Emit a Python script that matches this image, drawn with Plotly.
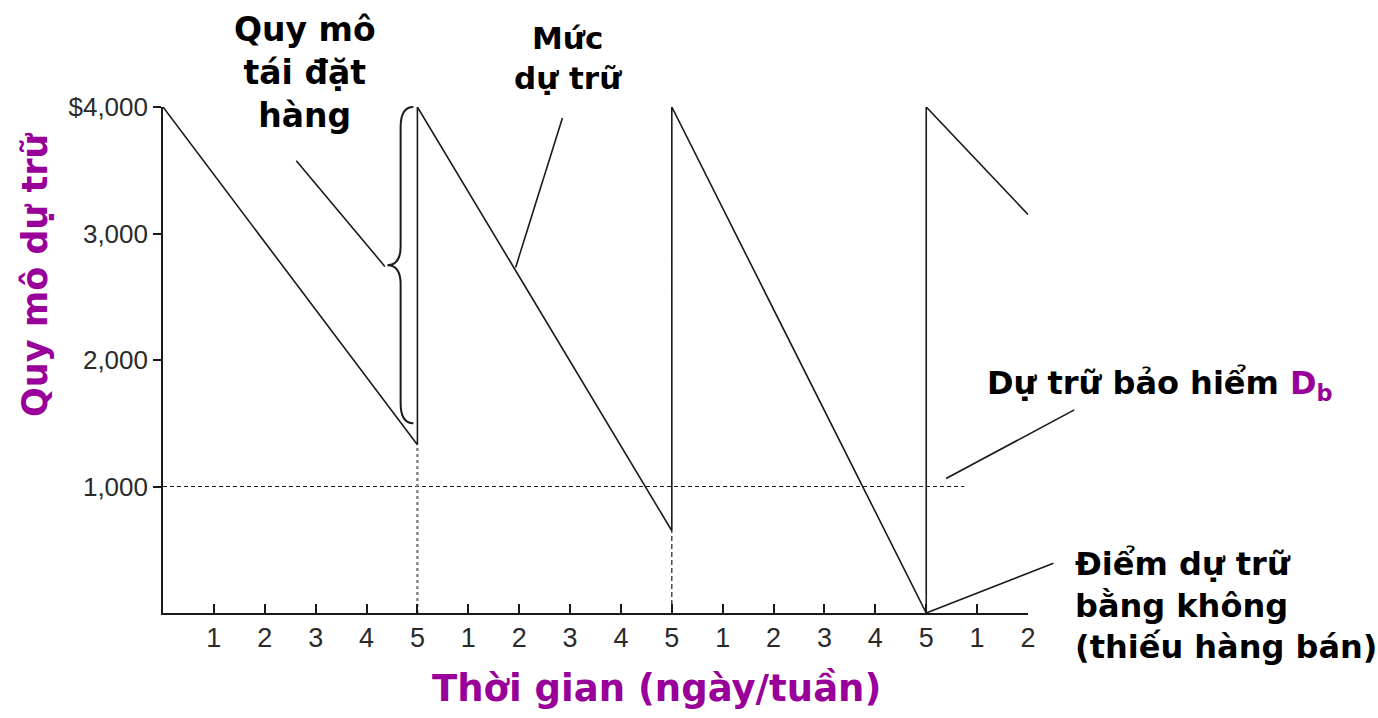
import plotly.graph_objects as go

# Inventory cycles (days on the x axis, value in $ on the y axis)
cycle_start = [0, 5, 10, 15]
cycle_end = [5, 10, 15, 17]
level_start = [4000, 4000, 4000, 4000]
level_end = [1330, 650, 0, 3150]

safety_stock = 1000
safety_end = 15.75

tick_days = list(range(1, 18))
tick_text = ["1", "2", "3", "4", "5"] * 3 + ["1", "2"]
y_ticks = [1000, 2000, 3000, 4000]
y_tick_text = ["1,000", "2,000", "3,000", "$4,000"]

X_RANGE = [0, 17]
Y_RANGE = [0, 4000]

PURPLE = "#990099"
INK = "#1a1a1a"
FONT = "DejaVu Sans"


def px(x):
    """data x -> paper fraction"""
    return (x - X_RANGE[0]) / (X_RANGE[1] - X_RANGE[0])


def py(y):
    """data y -> paper fraction"""
    return (y - Y_RANGE[0]) / (Y_RANGE[1] - Y_RANGE[0])


# Sawtooth path: each cycle declines, then jumps back up
saw_x, saw_y = [], []
for xs, xe, ys, ye in zip(cycle_start, cycle_end, level_start, level_end):
    saw_x += [xs, xe]
    saw_y += [ys, ye]

fig = go.Figure()
fig.add_trace(go.Scatter(x=saw_x, y=saw_y, mode="lines",
                         line=dict(color=INK, width=1.6), hoverinfo="skip",
                         showlegend=False))

# safety stock level
fig.add_trace(go.Scatter(x=[0, safety_end], y=[safety_stock, safety_stock], mode="lines",
                         line=dict(color=INK, width=1, dash="4px,3px"),
                         hoverinfo="skip", showlegend=False))

# drop lines at the reorder points
fig.add_trace(go.Scatter(x=[cycle_end[0], cycle_end[0]], y=[0, level_end[0]], mode="lines",
                         line=dict(color="#777777", width=2.2, dash="3px,3px"),
                         hoverinfo="skip", showlegend=False))
fig.add_trace(go.Scatter(x=[cycle_end[1], cycle_end[1]], y=[0, level_end[1]], mode="lines",
                         line=dict(color=INK, width=1.2, dash="5px,3px"),
                         hoverinfo="skip", showlegend=False))

shapes = []
# brace showing the reorder quantity
low, high = 1500, 4000
mid = (low + high) / 2
bx, tipx, endx = 4.67, 4.41, 4.92
pts = dict(
    e=px(endx), b=px(bx), t=px(tipx),
    hi=py(high), hi2=py(high - 160), m1=py(mid + 150), m=py(mid), m2=py(mid - 150),
    lo2=py(low + 160), lo=py(low),
)
brace = ("M {e},{hi} Q {b},{hi} {b},{hi2} L {b},{m1} Q {b},{m} {t},{m} "
         "Q {b},{m} {b},{m2} L {b},{lo2} Q {b},{lo} {e},{lo}").format(**pts)
shapes.append(dict(type="path", path=brace, xref="paper", yref="paper",
                   line=dict(color=INK, width=2)))

# leader lines from the labels to the marks
leaders = [
    (2.62, 3575, 4.36, 2740),
    (7.85, 3913, 6.93, 2732),
    (17.91, 1606, 15.39, 1063),
    (15.0, 0, 17.5, 394),
]
for x0, y0, x1, y1 in leaders:
    shapes.append(dict(type="line", x0=px(x0), y0=py(y0), x1=px(x1), y1=py(y1),
                       xref="paper", yref="paper",
                       line=dict(color=INK, width=1.6)))

annotations = [
    dict(x=px(2.79), y=py(4270), text="<b>Quy mô<br>tái đặt<br>hàng</b>", showarrow=False,
         xanchor="center", yanchor="middle", align="center",
         font=dict(family=FONT, size=33, color="black")),
    dict(x=px(7.95), y=py(4390), text="<b>Mức<br>dự trữ</b>", showarrow=False,
         xanchor="center", yanchor="middle", align="center",
         font=dict(family=FONT, size=31, color="black")),
    dict(x=px(16.16), y=py(1800),
         text="<b>Dự trữ bảo hiểm <span style='color:" + PURPLE + "'>D<sub>b</sub></span></b>",
         showarrow=False, xanchor="left", yanchor="middle", align="left",
         font=dict(family=FONT, size=32, color="black")),
    dict(x=px(17.88), y=py(60), text="<b>Điểm dự trữ<br>bằng không<br>(thiếu hàng bán)</b>",
         showarrow=False, xanchor="left", yanchor="middle", align="left",
         font=dict(family=FONT, size=32, color="black")),
    dict(x=-0.148, y=0.67,
         text="<b>Quy mô dự trữ</b>", textangle=-90, showarrow=False,
         xanchor="center", yanchor="middle",
         font=dict(family=FONT, size=35, color=PURPLE)),
    dict(x=0.571, y=-0.15,
         text="<b>Thời gian (ngày/tuần)</b>", showarrow=False,
         xanchor="center", yanchor="middle",
         font=dict(family=FONT, size=37, color=PURPLE)),
]
for a in annotations:
    a["xref"] = "paper"
    a["yref"] = "paper"

fig.update_layout(
    width=1378, height=718,
    margin=dict(l=163, r=350, t=107, b=105),
    paper_bgcolor="white", plot_bgcolor="white",
    shapes=shapes, annotations=annotations,
    xaxis=dict(range=X_RANGE, showgrid=False, zeroline=False,
               showline=True, linecolor=INK, linewidth=1.6,
               tickmode="array", tickvals=tick_days, ticktext=tick_text,
               ticks="inside", ticklen=9, tickwidth=1.6, tickcolor=INK,
               tickfont=dict(family="Liberation Sans", size=27, color="#2a2a2a")),
    yaxis=dict(range=Y_RANGE, showgrid=False, zeroline=False,
               showline=True, linecolor=INK, linewidth=1.6,
               tickmode="array", tickvals=y_ticks, ticktext=y_tick_text,
               ticks="outside", ticklen=8, tickwidth=1.6, tickcolor=INK,
               tickfont=dict(family="Liberation Sans", size=26, color="#2a2a2a")),
)

fig.write_html("out.html")
